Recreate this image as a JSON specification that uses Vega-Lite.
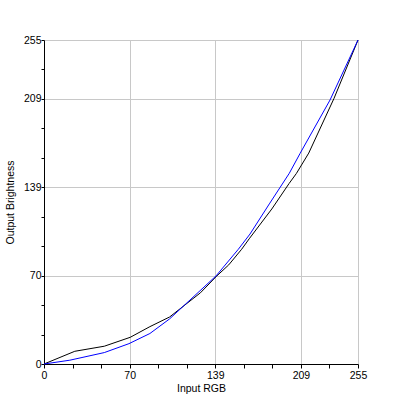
{
  "$schema": "https://vega.github.io/schema/vega-lite/v6.json",
  "autosize": "none",
  "width": 314,
  "height": 324,
  "padding": {"left": 44, "top": 40, "right": 43, "bottom": 37},
  "background": "white",
  "config": {
    "view": {"stroke": null},
    "axis": {
      "domainColor": "black",
      "tickColor": "black",
      "tickSize": 4,
      "labelColor": "black",
      "labelFont": "Liberation Sans",
      "labelFontSize": 10.5,
      "titleFont": "Liberation Sans",
      "titleFontSize": 10.5,
      "titleFontWeight": "normal",
      "titleColor": "black",
      "gridColor": "#c8c8c8",
      "gridWidth": 1
    }
  },
  "data": {
    "values": [
      {"series": "black", "input": 0, "output": 0},
      {"series": "black", "input": 25, "output": 10},
      {"series": "black", "input": 49, "output": 14},
      {"series": "black", "input": 70, "output": 21},
      {"series": "black", "input": 86, "output": 29.4},
      {"series": "black", "input": 102, "output": 37},
      {"series": "black", "input": 127, "output": 56},
      {"series": "black", "input": 140, "output": 69},
      {"series": "black", "input": 150, "output": 78},
      {"series": "black", "input": 160.5, "output": 90.3},
      {"series": "black", "input": 167, "output": 99},
      {"series": "black", "input": 185, "output": 122},
      {"series": "black", "input": 199, "output": 142},
      {"series": "black", "input": 205, "output": 150},
      {"series": "black", "input": 215, "output": 166},
      {"series": "black", "input": 235.5, "output": 209},
      {"series": "black", "input": 255, "output": 255},
      {"series": "blue", "input": 0, "output": 0},
      {"series": "blue", "input": 21, "output": 3},
      {"series": "blue", "input": 49, "output": 9},
      {"series": "blue", "input": 69, "output": 16},
      {"series": "blue", "input": 86, "output": 24},
      {"series": "blue", "input": 102, "output": 35.5},
      {"series": "blue", "input": 118.6, "output": 50.4},
      {"series": "blue", "input": 139.7, "output": 69.3},
      {"series": "blue", "input": 157.8, "output": 90.3},
      {"series": "blue", "input": 167.3, "output": 102.3},
      {"series": "blue", "input": 183, "output": 126},
      {"series": "blue", "input": 199.2, "output": 150.1},
      {"series": "blue", "input": 208, "output": 165.8},
      {"series": "blue", "input": 232.3, "output": 207.8},
      {"series": "blue", "input": 255, "output": 255}
    ]
  },
  "mark": {"type": "line", "strokeWidth": 1, "interpolate": "linear", "clip": false},
  "encoding": {
    "x": {
      "field": "input",
      "type": "quantitative",
      "scale": {"domain": [0, 255], "nice": false, "zero": false},
      "axis": {
        "title": "Input RGB",
        "values": [0, 23.1818, 46.3636, 69.5455, 92.7273, 115.9091, 139.0909, 162.2727, 185.4545, 208.6364, 231.8182, 255],
        "labelExpr": "indexof([0,70,139,209,255], round(datum.value)) >= 0 ? format(round(datum.value), 'd') : ''",
        "labelPadding": 2,
        "labelFlush": false,
        "labelOverlap": false,
        "titlePadding": 3,
        "gridOpacity": {"condition": {"test": "indexof([70,139,209,255], round(datum.value)) >= 0", "value": 1}, "value": 0}
      }
    },
    "y": {
      "field": "output",
      "type": "quantitative",
      "scale": {"domain": [0, 255], "nice": false, "zero": false},
      "axis": {
        "title": "Output Brightness",
        "values": [0, 23.1818, 46.3636, 69.5455, 92.7273, 115.9091, 139.0909, 162.2727, 185.4545, 208.6364, 231.8182, 255],
        "labelExpr": "indexof([0,70,139,209,255], round(datum.value)) >= 0 ? format(round(datum.value), 'd') : ''",
        "labelPadding": 0,
        "labelFlush": false,
        "labelOverlap": false,
        "tickSize": 3,
        "titlePadding": 8,
        "gridOpacity": {"condition": {"test": "indexof([70,139,209,255], round(datum.value)) >= 0", "value": 1}, "value": 0}
      }
    },
    "color": {
      "field": "series",
      "type": "nominal",
      "scale": {"domain": ["blue", "black"], "range": ["#0000ff", "#000000"]},
      "legend": null
    }
  }
}
